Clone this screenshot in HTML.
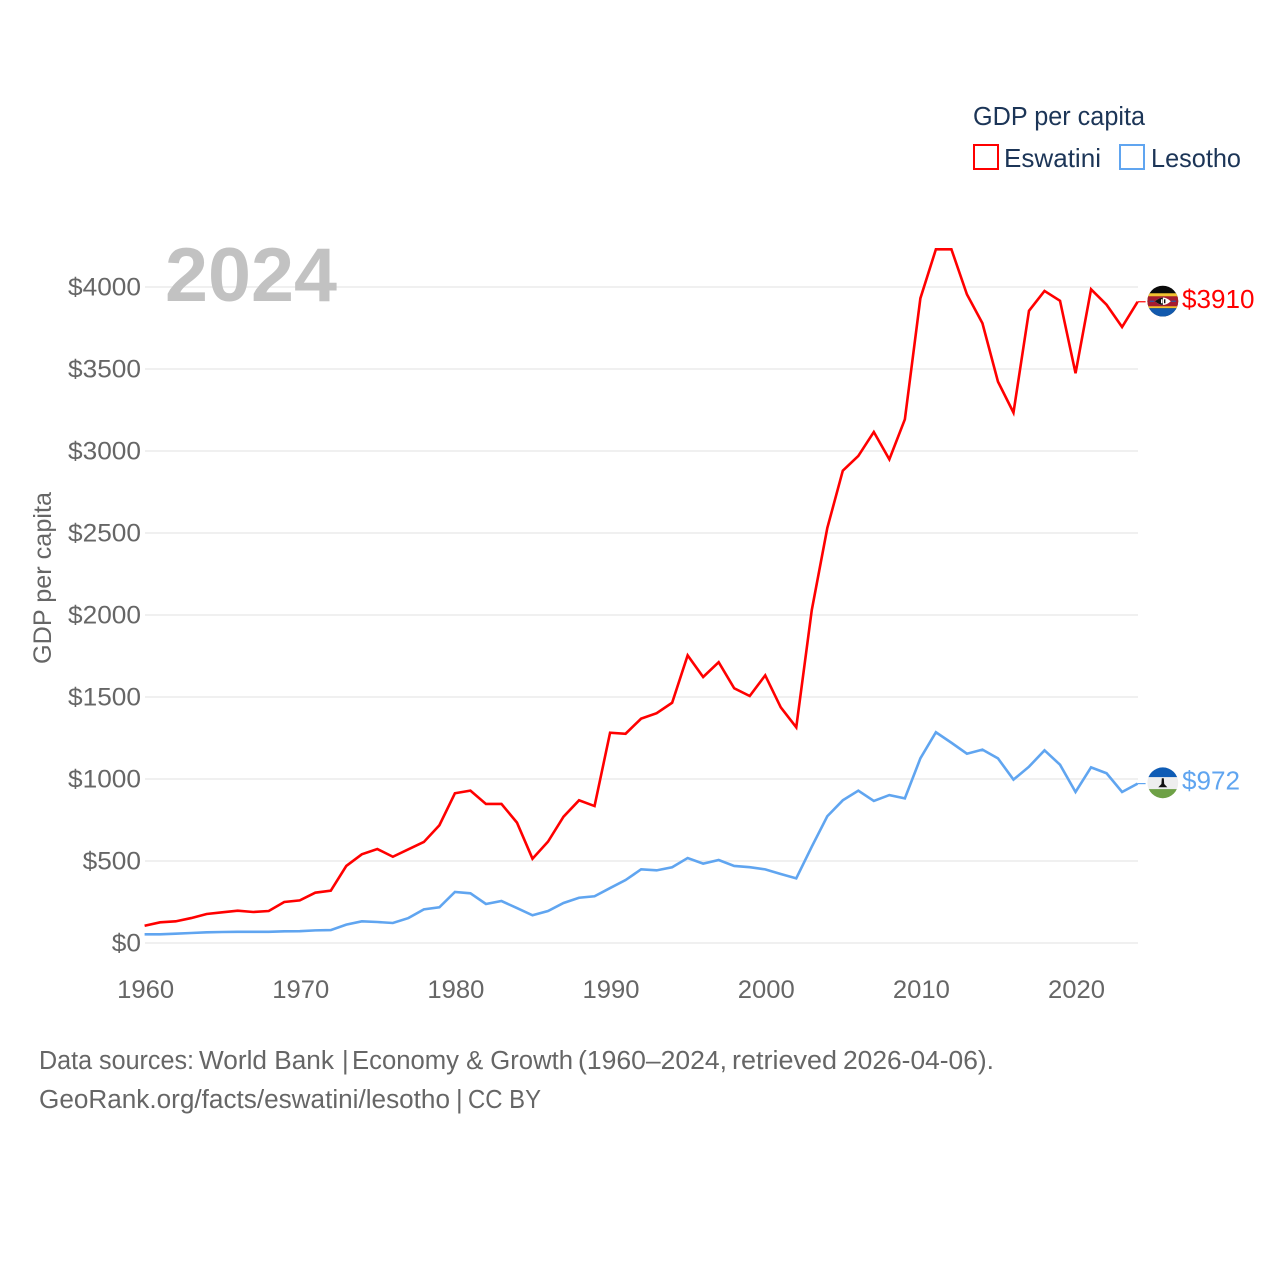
<!DOCTYPE html>
<html lang="en">
<head>
<meta charset="utf-8">
<title>GDP per capita: Eswatini and Lesotho</title>
<style>
html,body{margin:0;padding:0;background:#fff;}
svg{display:block;}
text{font-family:"Liberation Sans",sans-serif;}
</style>
</head>
<body>
<svg id="chart" xmlns="http://www.w3.org/2000/svg" width="1280" height="1280" viewBox="0 0 1280 1280">
  <defs>
    <clipPath id="flag-clip-a"><circle cx="0" cy="-0.6" r="15.4"/></clipPath>
    <clipPath id="flag-clip-b"><circle cx="0" cy="-0.8" r="15.4"/></clipPath>
  </defs>
  <rect x="0" y="0" width="1280" height="1280" fill="#ffffff"/>
  <g id="grid"></g>
  <text x="165" y="301" font-size="76" font-weight="700" fill="#c2c2c2" textLength="172" lengthAdjust="spacingAndGlyphs">2024</text>
  <g id="y-axis"></g>
  <g id="x-axis"></g>
  <text transform="translate(51,664) rotate(-90)" font-size="25" fill="#666666" textLength="172" lengthAdjust="spacingAndGlyphs">GDP per capita</text>
  <g id="series"></g>

  <g id="flag-eswatini">
    <g clip-path="url(#flag-clip-a)">
      <rect x="-16" y="-17" width="32" height="34" fill="#0b0b0b"/>
      <rect x="-16" y="-8.5" width="32" height="15" fill="#f2c230"/>
      <rect x="-16" y="-5.5" width="32" height="10" fill="#a51c30"/>
      <rect x="-16" y="6.5" width="32" height="10" fill="#1259ad"/>
      <path d="M-8 -0.5 Q-3 -4.3 0 -4.3 Q4 -4.3 8 -0.5 Q4 3.3 0 3.3 Q-3 3.3 -8 -0.5Z" fill="#fff"/>
      <path d="M-8 -0.5 Q-3 -4.3 0 -4.3 L0 3.3 Q-3 3.3 -8 -0.5Z" fill="#111"/>
      <rect x="-1.8" y="-2.5" width="1.4" height="4" fill="#fff"/>
      <rect x="1.2" y="-2.5" width="1.4" height="4" fill="#111"/>
      <rect x="-13" y="-1.1" width="4.5" height="1.2" fill="#2a5caa"/>
      <rect x="8.5" y="-1.1" width="4.5" height="1.2" fill="#2a5caa"/>
    </g>
  </g>
  <g id="flag-lesotho">
    <g clip-path="url(#flag-clip-b)">
      <rect x="-16" y="-17" width="32" height="34" fill="#eeeeee"/>
      <rect x="-16" y="-17" width="32" height="10.5" fill="#0f5cb5"/>
      <rect x="-16" y="5.5" width="32" height="11" fill="#6ea146"/>
      <path d="M-4.5 3.6 L4.5 3.6 L1.4 0.4 L1 -5.4 L-1 -5.4 L-1.4 0.4Z" fill="#111"/>
    </g>
  </g>
  <g id="end-labels"></g>

  <g>
    <text x="973" y="125" font-size="25.5" fill="#1c3557" textLength="172" lengthAdjust="spacingAndGlyphs">GDP per capita</text>
    <g>
      <rect x="974" y="145" width="24" height="24" fill="none" stroke="#ff0000" stroke-width="2"/>
      <text x="1004" y="167" font-size="26" fill="#1c3557" textLength="97" lengthAdjust="spacingAndGlyphs">Eswatini</text>
    </g>
    <g>
      <rect x="1120" y="145" width="24" height="24" fill="none" stroke="#60a5f0" stroke-width="2"/>
      <text x="1151" y="167" font-size="26" fill="#1c3557" textLength="90" lengthAdjust="spacingAndGlyphs">Lesotho</text>
    </g>
  </g>

  <text y="1069" font-size="25.5" fill="#666666"><tspan x="39" textLength="155" lengthAdjust="spacingAndGlyphs">Data sources:</tspan> <tspan x="199" textLength="135" lengthAdjust="spacingAndGlyphs">World Bank</tspan> <tspan x="342">|</tspan> <tspan x="352" textLength="221" lengthAdjust="spacingAndGlyphs">Economy &amp; Growth</tspan> <tspan x="578" textLength="149" lengthAdjust="spacingAndGlyphs">(1960–2024,</tspan> <tspan x="732" textLength="105" lengthAdjust="spacingAndGlyphs">retrieved</tspan> <tspan x="843" textLength="151" lengthAdjust="spacingAndGlyphs">2026-04-06).</tspan></text>
  <text y="1108" font-size="25.5" fill="#666666"><tspan x="39" textLength="411" lengthAdjust="spacingAndGlyphs">GeoRank.org/facts/eswatini/lesotho</tspan> <tspan x="456">|</tspan> <tspan x="468" textLength="73" lengthAdjust="spacingAndGlyphs">CC BY</tspan></text>
</svg>
<script>
const startYear = 1960;
const eswatiniValues = [105,126,132,152,177,187,197,189,195,250,260,307,319,470,541,573,526,571,616,718,913,929,848,848,734,514,618,770,870,835,1282,1276,1368,1401,1465,1754,1622,1712,1553,1506,1632,1437,1315,2030,2530,2880,2970,3116,2949,3193,3931,4230,4230,3955,3779,3423,3234,3855,3976,3916,3474,3986,3892,3756,3910];
const lesothoValues = [53,53,57,61,65,67,68,68,68,71,72,77,79,112,132,128,122,152,205,218,311,303,238,256,213,169,195,244,276,285,335,384,449,443,462,518,484,506,470,462,449,421,394,587,773,870,929,866,902,882,1126,1285,1221,1154,1179,1126,996,1075,1175,1087,921,1071,1035,921,972];
const yTickValues = [0,500,1000,1500,2000,2500,3000,3500,4000];
const xTickValues = [1960,1970,1980,1990,2000,2010,2020];

const NS = 'http://www.w3.org/2000/svg';
function xScale(year){ return 144.6 + (year - 1960) * (1137.6 - 144.6) / 64; }
function yScale(value){ return 943 - value * 656 / 4000; }
function make(tag, attrs, parent, text){
  const el = document.createElementNS(NS, tag);
  for (const k in attrs) el.setAttribute(k, attrs[k]);
  if (text !== undefined) el.textContent = text;
  parent.appendChild(el);
  return el;
}
const gridG = document.getElementById('grid');
const yG = document.getElementById('y-axis');
const xG = document.getElementById('x-axis');
const seriesG = document.getElementById('series');
const labelsG = document.getElementById('end-labels');

yTickValues.forEach(function(v){
  const line = make('line', {x1:145, x2:1138, y1:yScale(v), y2:yScale(v), stroke:'#ececec', 'stroke-width':1.4}, gridG);
  
  
  const s = '$' + v;
  const t = make('text', {x:141, y:yScale(v) + 8.5, 'text-anchor':'end', 'font-size':25, fill:'#666666', textLength: s.length * 14.6, lengthAdjust:'spacingAndGlyphs'}, yG, s);
  
  
});
xTickValues.forEach(function(v){
  const t = make('text', {x:xScale(v) + 1, y:998, 'text-anchor':'middle', 'font-size':25, fill:'#666666', textLength:57, lengthAdjust:'spacingAndGlyphs'}, xG, String(v));
  
  
});
function drawSeries(values, color, flagId){
  const pts = values.map(function(v, i){ return xScale(startYear + i).toFixed(2) + ',' + yScale(v).toFixed(2); }).join(' ');
  const line = make('polyline', {points:pts, fill:'none', stroke:color, 'stroke-width':2.6, 'stroke-linejoin':'miter'}, seriesG);
  
  
  const last = values[values.length - 1];
  const yEnd = yScale(last);
  const xEnd = xScale(startYear + values.length - 1);
  const conn = make('line', {x1:xEnd, x2:xEnd + 8, y1:yEnd, y2:yEnd, stroke:color, 'stroke-width':1.2}, seriesG);
  
  
  document.getElementById(flagId).setAttribute('transform', 'translate(' + (xEnd + 25.2) + ',' + yEnd + ')');
  const s = '$' + last;
  const lab = make('text', {x:xEnd + 44.4, y:yEnd + 6, 'font-size':26, fill:color, textLength:s.length * 14.5, lengthAdjust:'spacingAndGlyphs'}, labelsG, s);
  
  
}
drawSeries(eswatiniValues, '#ff0000', 'flag-eswatini');
drawSeries(lesothoValues, '#60a5f0', 'flag-lesotho');
</script>
</body>
</html>
